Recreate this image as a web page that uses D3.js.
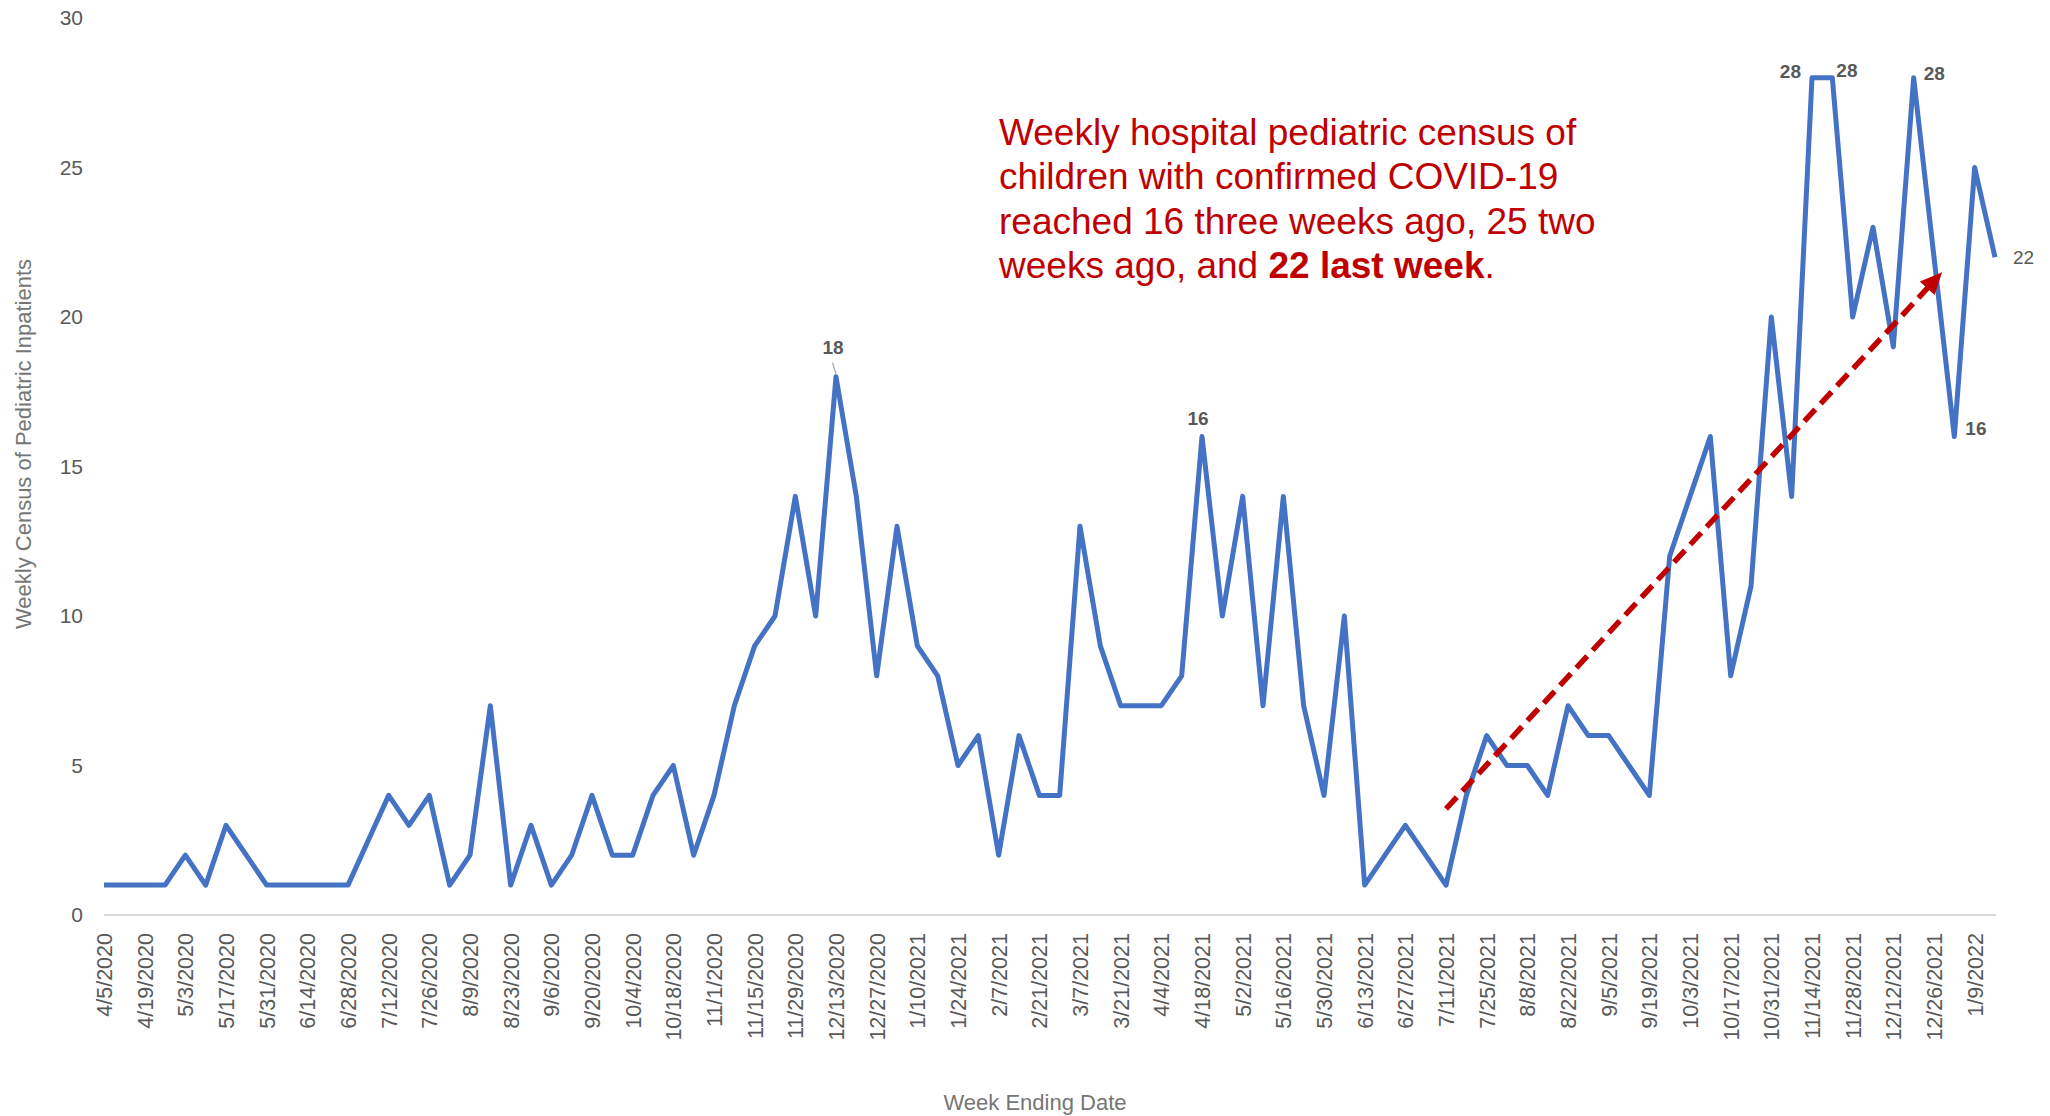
<!DOCTYPE html>
<html>
<head>
<meta charset="utf-8">
<script src="https://cdn.jsdelivr.net/npm/d3@7"></script>
<style>
  body { margin: 0; background: #fff; }
  text { font-family: "Liberation Sans", Arial, sans-serif; }
</style>
</head>
<body>
<div id="chart"></div>
<script>
// week ending dates (categories)
var weeks = [
  "4/5/2020","4/12/2020","4/19/2020","4/26/2020","5/3/2020","5/10/2020","5/17/2020","5/24/2020",
  "5/31/2020","6/7/2020","6/14/2020","6/21/2020","6/28/2020","7/5/2020","7/12/2020","7/19/2020",
  "7/26/2020","8/2/2020","8/9/2020","8/16/2020","8/23/2020","8/30/2020","9/6/2020","9/13/2020",
  "9/20/2020","9/27/2020","10/4/2020","10/11/2020","10/18/2020","10/25/2020","11/1/2020","11/8/2020",
  "11/15/2020","11/22/2020","11/29/2020","12/6/2020","12/13/2020","12/20/2020","12/27/2020","1/3/2021",
  "1/10/2021","1/17/2021","1/24/2021","1/31/2021","2/7/2021","2/14/2021","2/21/2021","2/28/2021",
  "3/7/2021","3/14/2021","3/21/2021","3/28/2021","4/4/2021","4/11/2021","4/18/2021","4/25/2021",
  "5/2/2021","5/9/2021","5/16/2021","5/23/2021","5/30/2021","6/6/2021","6/13/2021","6/20/2021",
  "6/27/2021","7/4/2021","7/11/2021","7/18/2021","7/25/2021","8/1/2021","8/8/2021","8/15/2021",
  "8/22/2021","8/29/2021","9/5/2021","9/12/2021","9/19/2021","9/26/2021","10/3/2021","10/10/2021",
  "10/17/2021","10/24/2021","10/31/2021","11/7/2021","11/14/2021","11/21/2021","11/28/2021","12/5/2021",
  "12/12/2021","12/19/2021","12/26/2021","1/2/2022","1/9/2022","1/16/2022"
];

// weekly census of pediatric inpatients
var census = [
  1, 1, 1, 1, 2, 1, 3, 2, 1, 1, 1, 1, 1, 2.5, 4, 3,
  4, 1, 2, 7, 1, 3, 1, 2, 4, 2, 2, 4, 5, 2, 4, 7,
  9, 10, 14, 10, 18, 14, 8, 13, 9, 8, 5, 6, 2, 6, 4, 4,
  13, 9, 7, 7, 7, 8, 16, 10, 14, 7, 14, 7, 4, 10, 1, 2,
  3, 2, 1, 4, 6, 5, 5, 4, 7, 6, 6, 5, 4, 12, 14, 16,
  8, 11, 20, 14, 28, 28, 20, 23, 19, 28, 22, 16, 25, 22
];

var yTicks = [0, 5, 10, 15, 20, 25, 30];

// points that carry a data label
var labelled = [36, 54, 84, 85, 89, 91, 93];

// trend arrow, in week index / census units
var arrowFrom = [66.0, 3.55];
var arrowTo = [90.4, 21.5];

var noteLines = [
  "Weekly hospital pediatric census of",
  "children with confirmed COVID-19",
  "reached 16 three weeks ago, 25 two",
  "weeks ago, and "
];
var noteBold = "22 last week";

var W = 2050, H = 1116;

var svg = d3.select("#chart")
  .append("svg")
  .attr("width", W)
  .attr("height", H);

svg.append("rect").attr("width", W).attr("height", H).attr("fill", "#fff");

var x = d3.scaleLinear()
  .domain([0, weeks.length - 1])
  .range([104, 1995]);

var y = d3.scaleLinear()
  .domain([0, 30])
  .range([915, 18]);

// Y axis (labels only)
var yAxis = svg.append("g")
  .attr("transform", "translate(104,0)")
  .call(d3.axisLeft(y).tickValues(yTicks).tickSize(0).tickPadding(21));
yAxis.select(".domain").remove();
yAxis.selectAll("text")
  .style("font-family", "Liberation Sans, Arial, sans-serif")
  .style("font-size", "21px")
  .attr("fill", "#595959");

// X axis
var evenIdx = d3.range(0, weeks.length, 2);
var xAxis = svg.append("g")
  .attr("transform", "translate(0,915)")
  .call(d3.axisBottom(x)
    .tickValues(evenIdx)
    .tickFormat(function (i) { return weeks[i]; })
    .tickSize(0)
    .tickSizeOuter(0));
xAxis.select(".domain")
  .attr("stroke", "#d9d9d9")
  .attr("stroke-width", 2)
  .attr("d", "M104,0H1996");
xAxis.selectAll("text")
  .style("font-family", "Liberation Sans, Arial, sans-serif")
  .style("font-size", "21.5px")
  .attr("fill", "#595959")
  .attr("text-anchor", "end")
  .attr("dy", "0.35em")
  .attr("x", -18)
  .attr("y", 0)
  .attr("transform", "rotate(-90)");

// axis titles
svg.append("text")
  .attr("transform", "translate(31,444) rotate(-90)")
  .attr("text-anchor", "middle")
  .style("font-size", "22px")
  .attr("fill", "#767676")
  .text("Weekly Census of Pediatric Inpatients");

svg.append("text")
  .attr("x", 1035)
  .attr("y", 1110)
  .attr("text-anchor", "middle")
  .style("font-size", "22px")
  .attr("fill", "#767676")
  .text("Week Ending Date");

// the census line
svg.append("path")
  .datum(census)
  .attr("d", d3.line()
    .x(function (d, i) { return x(i); })
    .y(function (d) { return y(d); }))
  .attr("fill", "none")
  .attr("stroke", "#4472C4")
  .attr("stroke-width", 5)
  .attr("stroke-linejoin", "round");

// data labels
var place = {
  36: { dx: -3, dy: -29, anchor: "middle", weight: "bold" },
  54: { dx: -4, dy: -18, anchor: "middle", weight: "bold" },
  84: { dx: -11, dy: -6, anchor: "end", weight: "bold" },
  85: { dx: 4, dy: -7, anchor: "start", weight: "bold" },
  89: { dx: 10, dy: -4, anchor: "start", weight: "bold" },
  91: { dx: 11, dy: -8, anchor: "start", weight: "bold" },
  93: { dx: 18, dy: 0, anchor: "start", weight: "normal" }
};

// little leader line on the 18 peak
svg.append("line")
  .attr("x1", x(36) - 3.5).attr("y1", y(census[36]) - 14)
  .attr("x2", x(36)).attr("y2", y(census[36]) - 3)
  .attr("stroke", "#a6a6a6")
  .attr("stroke-width", 1.2);

svg.selectAll(".dlabel")
  .data(labelled)
  .enter()
  .append("text")
  .attr("class", "dlabel")
  .attr("x", function (i) { return x(i) + place[i].dx; })
  .attr("y", function (i) { return y(census[i]) + place[i].dy; })
  .attr("dy", "0.35em")
  .attr("text-anchor", function (i) { return place[i].anchor; })
  .style("font-size", "19px")
  .style("font-weight", function (i) { return place[i].weight; })
  .attr("fill", "#595959")
  .text(function (i) { return census[i]; });

// dashed trend arrow
var ax1 = x(arrowFrom[0]), ay1 = y(arrowFrom[1]);
var ax2 = x(arrowTo[0]), ay2 = y(arrowTo[1]);
var len = Math.sqrt((ax2 - ax1) * (ax2 - ax1) + (ay2 - ay1) * (ay2 - ay1));
var ux = (ax2 - ax1) / len, uy = (ay2 - ay1) / len;
var headLen = 22, headHalf = 10;

svg.append("line")
  .attr("x1", ax1).attr("y1", ay1)
  .attr("x2", ax2 - ux * (headLen - 2)).attr("y2", ay2 - uy * (headLen - 2))
  .attr("stroke", "#C00000")
  .attr("stroke-width", 5.5)
  .attr("stroke-dasharray", "16 8");

var bx = ax2 - ux * headLen, by = ay2 - uy * headLen;
svg.append("path")
  .attr("d", "M" + ax2 + "," + ay2 +
    "L" + (bx - uy * headHalf) + "," + (by + ux * headHalf) +
    "L" + (bx + uy * headHalf) + "," + (by - ux * headHalf) + "Z")
  .attr("fill", "#C00000");

// annotation text
var note = svg.append("text")
  .attr("x", 999)
  .attr("y", 145)
  .style("font-size", "37px")
  .attr("fill", "#C00000");

noteLines.forEach(function (t, k) {
  note.append("tspan")
    .attr("x", 999)
    .attr("y", 145 + k * 44.3)
    .text(t);
});
note.append("tspan")
  .style("font-weight", "bold")
  .text(noteBold);
note.append("tspan")
  .text(".");
</script>
</body>
</html>
